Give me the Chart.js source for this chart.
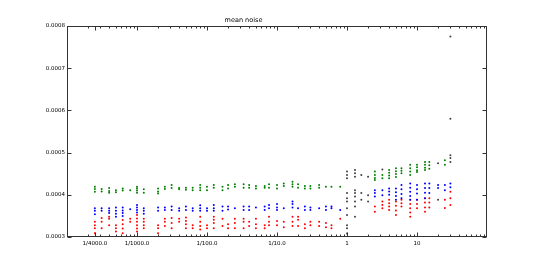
<!DOCTYPE html>
<html>
<head>
<meta charset="utf-8">
<script src="https://cdn.jsdelivr.net/npm/chart.js@4/dist/chart.umd.min.js"></script>
<style>
html,body{margin:0;padding:0;background:#fff;}
#wrap{width:540px;height:264px;}
</style>
</head>
<body>
<div id="wrap"><canvas id="c" width="540" height="264"></canvas></div>
<script>
// exposure times (s), one column of measurements each
const shutter = [1/4000, 1/3200, 1/2500, 1/2000, 1/1600, 1/1250, 1/1000, 1/800, 1/500, 1/400,
  1/320, 1/250, 1/200, 1/160, 1/125, 1/100, 1/80, 1/60, 1/50, 1/40,
  1/30, 1/25, 1/20, 1/15, 1/13, 1/10, 1/8, 1/6, 1/5, 1/4,
  0.3, 0.4, 0.5, 0.6, 0.8, 1, 1.3, 1.6, 2, 2.5,
  3.2, 4, 5, 6, 8, 10, 13, 15, 20, 25, 30];

const greenVals = [
  [4.19e-4,4.14e-4,4.07e-4],[4.14e-4,4.08e-4],[4.16e-4,4.09e-4,4.05e-4],[4.11e-4,4.06e-4],[4.15e-4,4.10e-4],
  [4.11e-4],[4.19e-4,4.15e-4,4.10e-4,4.05e-4],[4.13e-4,4.05e-4],[4.15e-4,4.08e-4,4.03e-4],[4.19e-4,4.14e-4],
  [4.23e-4,4.16e-4],[4.16e-4,4.13e-4],[4.17e-4,4.12e-4],[4.17e-4,4.11e-4],[4.23e-4,4.17e-4,4.11e-4],
  [4.19e-4,4.11e-4],[4.23e-4,4.17e-4],[4.19e-4,4.11e-4],[4.23e-4,4.15e-4],[4.25e-4,4.19e-4],
  [4.25e-4,4.17e-4],[4.23e-4,4.17e-4],[4.21e-4,4.15e-4],[4.21e-4,4.17e-4],[4.25e-4,4.17e-4],
  [4.23e-4,4.15e-4],[4.27e-4,4.21e-4],[4.31e-4,4.25e-4,4.19e-4],[4.25e-4,4.17e-4],[4.21e-4,4.15e-4],
  [4.21e-4,4.15e-4],[4.23e-4,4.17e-4],[4.19e-4],[4.19e-4],[4.19e-4],
  [],[],[],[],[4.55e-4,4.47e-4,4.40e-4,4.35e-4],
  [4.47e-4,4.39e-4],[4.59e-4,4.52e-4,4.46e-4,4.39e-4],[4.63e-4,4.56e-4,4.49e-4,4.42e-4],[4.63e-4,4.57e-4,4.51e-4],
  [4.71e-4,4.63e-4,4.55e-4,4.47e-4],[4.71e-4,4.65e-4,4.58e-4,4.54e-4],[4.78e-4,4.71e-4,4.64e-4,4.59e-4],
  [4.78e-4,4.70e-4,4.62e-4],[],[4.82e-4,4.71e-4],[]
];

const blueVals = [
  [3.68e-4,3.62e-4,3.54e-4],[3.68e-4,3.62e-4],[3.68e-4,3.62e-4,3.57e-4],[3.70e-4,3.62e-4,3.55e-4,3.48e-4],[3.70e-4,3.63e-4,3.57e-4,3.50e-4],
  [3.66e-4],[3.76e-4,3.70e-4,3.64e-4,3.58e-4],[3.68e-4,3.62e-4,3.55e-4],[3.70e-4,3.62e-4],[3.70e-4,3.64e-4],
  [3.72e-4,3.64e-4],[3.68e-4,3.62e-4],[3.72e-4,3.64e-4],[3.68e-4,3.62e-4],[3.75e-4,3.68e-4,3.62e-4],
  [3.68e-4,3.62e-4],[3.76e-4,3.68e-4,3.62e-4],[3.72e-4,3.62e-4],[3.72e-4,3.65e-4],[3.68e-4],
  [3.72e-4,3.64e-4],[3.72e-4,3.64e-4],[3.70e-4],[3.72e-4,3.64e-4],[3.76e-4,3.68e-4],
  [3.78e-4,3.70e-4,3.64e-4],[3.68e-4],[3.84e-4,3.78e-4,3.70e-4],[3.68e-4],[3.72e-4,3.64e-4],
  [3.70e-4,3.64e-4],[3.68e-4],[3.72e-4,3.64e-4],[3.72e-4,3.68e-4],[3.64e-4],
  [],[],[],[],[4.11e-4,4.04e-4,3.96e-4],
  [4.11e-4,3.99e-4],[4.15e-4,4.08e-4,4.00e-4],[4.15e-4,4.06e-4,3.97e-4,3.88e-4],[4.23e-4,4.13e-4,4.02e-4,3.92e-4],
  [4.27e-4,4.17e-4,4.07e-4,3.97e-4,3.88e-4],[4.23e-4,4.13e-4,4.03e-4,3.88e-4],[4.27e-4,4.16e-4,4.05e-4,3.92e-4],
  [4.27e-4,4.16e-4,4.04e-4],[4.23e-4,4.16e-4],[4.23e-4,4.11e-4],[4.27e-4,4.18e-4]
];

const redVals = [
  [3.36e-4,3.28e-4,3.21e-4,3.09e-4],[3.45e-4,3.36e-4,3.21e-4],[3.48e-4,3.43e-4,3.28e-4],[3.28e-4,3.21e-4,3.13e-4],[3.40e-4,3.30e-4,3.20e-4,3.09e-4],
  [3.43e-4,3.36e-4],[3.52e-4,3.44e-4,3.36e-4,3.28e-4,3.20e-4,3.13e-4],[3.43e-4,3.36e-4,3.28e-4,3.21e-4],[3.28e-4,3.21e-4,3.09e-4],[3.43e-4,3.36e-4,3.26e-4],
  [3.45e-4,3.33e-4,3.21e-4],[3.43e-4,3.36e-4],[3.46e-4,3.38e-4,3.30e-4,3.21e-4],[3.28e-4,3.21e-4],[3.48e-4,3.36e-4,3.26e-4,3.18e-4],
  [3.28e-4,3.21e-4],[3.48e-4,3.41e-4,3.33e-4,3.21e-4],[3.43e-4,3.26e-4],[3.30e-4,3.21e-4],[3.43e-4,3.33e-4,3.21e-4],
  [3.43e-4,3.36e-4,3.21e-4],[3.36e-4,3.26e-4],[3.43e-4,3.30e-4,3.21e-4],[3.28e-4,3.21e-4],[3.48e-4,3.36e-4,3.28e-4],
  [3.38e-4,3.28e-4],[3.36e-4,3.23e-4],[3.48e-4,3.36e-4,3.26e-4],[3.48e-4,3.41e-4,3.26e-4],[3.30e-4,3.21e-4],
  [3.36e-4,3.28e-4],[3.36e-4,3.26e-4],[3.33e-4,3.23e-4],[3.28e-4,3.21e-4],[3.43e-4],
  [],[],[],[],[3.72e-4,3.60e-4],
  [3.84e-4,3.76e-4,3.68e-4],[3.88e-4,3.80e-4,3.72e-4,3.64e-4],[3.84e-4,3.74e-4,3.63e-4,3.52e-4],[3.88e-4,3.80e-4,3.72e-4],
  [3.88e-4,3.78e-4,3.68e-4,3.58e-4,3.48e-4],[3.88e-4,3.78e-4,3.68e-4],[3.92e-4,3.82e-4,3.70e-4,3.60e-4],
  [3.92e-4,3.82e-4,3.70e-4],[],[3.88e-4,3.69e-4],[4.07e-4,3.92e-4,3.76e-4]
];

// dark (grey/black) dots
const darkShutter = [1, 1.3, 1.6, 2, 3.2, 20, 30];
const darkVals = [
  [4.55e-4,4.47e-4,4.39e-4,4.04e-4,3.92e-4,3.84e-4,3.68e-4,3.52e-4,3.28e-4,3.21e-4,3.08e-4],
  [4.59e-4,4.51e-4,4.43e-4,4.11e-4,4.04e-4,3.96e-4,3.84e-4,3.72e-4,3.48e-4],
  [4.47e-4,4.04e-4,3.88e-4],
  [4.43e-4,3.99e-4,3.84e-4],
  [4.60e-4],
  [4.75e-4,3.88e-4],
  [4.94e-4,4.87e-4,4.78e-4,7.75e-4,5.80e-4]
];

const xTickVals = [1/4000, 1/1000, 1/100, 1/10, 1, 10];
const xTickLabels = ['1/4000.0', '1/1000.0', '1/100.0', '1/10.0', '1', '10'];
const yTickVals = [0.0003, 0.0004, 0.0005, 0.0006, 0.0007, 0.0008];
const yTickLabels = ['0.0003', '0.0004', '0.0005', '0.0006', '0.0007', '0.0008'];
const titleText = 'mean noise';

function pts(xs, vals) {
  const out = [];
  xs.forEach((x, i) => vals[i].forEach(v => out.push({x: x, y: v})));
  return out;
}

function ds(data, color) {
  return {data: data, backgroundColor: color, borderColor: color, borderWidth: 0,
    pointRadius: 1.0, pointHoverRadius: 1.0, showLine: false};
}

const FONT = 'DejaVu Sans';

const framePlugin = {
  id: 'frame',
  afterDraw(chart) {
    const {ctx, chartArea: a, scales} = chart;
    const xs = scales.x, ys = scales.y;
    ctx.save();
    ctx.strokeStyle = '#333';
    ctx.lineWidth = 1;
    const L = Math.round(a.left) + 0.5, R = Math.round(a.right) - 0.5;
    const T = Math.round(a.top) + 0.5, B = Math.round(a.bottom) - 0.5;
    ctx.strokeRect(L, T, R - L, B - T);
    ctx.beginPath();
    for (let e = -4; e < 2; e++) {
      for (let m = 2; m <= 9; m++) {
        const px = Math.round(xs.getPixelForValue(m * Math.pow(10, e))) + 0.5;
        if (px <= L || px >= R) continue;
        ctx.moveTo(px, B); ctx.lineTo(px, B - 2);
        ctx.moveTo(px, T); ctx.lineTo(px, T + 2);
      }
    }
    xTickVals.forEach(v => {
      const px = Math.round(xs.getPixelForValue(v)) + 0.5;
      ctx.moveTo(px, B); ctx.lineTo(px, B - 4);
      ctx.moveTo(px, T); ctx.lineTo(px, T + 4);
    });
    yTickVals.forEach(v => {
      const py = Math.round(ys.getPixelForValue(v)) + 0.5;
      ctx.moveTo(L, py); ctx.lineTo(L + 4, py);
      ctx.moveTo(R, py); ctx.lineTo(R - 4, py);
    });
    ctx.stroke();
    ctx.restore();
  }
};

new Chart(document.getElementById('c'), {
  type: 'scatter',
  data: {
    datasets: [
      ds(pts(shutter, greenVals), '#008000'),
      ds(pts(shutter, blueVals), '#0000ff'),
      ds(pts(shutter, redVals), '#ff0000'),
      ds(pts(darkShutter, darkVals), '#404040')
    ]
  },
  options: {
    responsive: false,
    animation: false,
    events: [],
    layout: {padding: {left: 0, right: 53, top: 0, bottom: 0}},
    plugins: {
      legend: {display: false},
      tooltip: {enabled: false},
      title: {
        display: true, text: titleText, color: '#000',
        font: {family: FONT, size: 6.5, weight: 'normal'},
        padding: {top: 16, bottom: 2.2}
      }
    },
    scales: {
      x: {
        type: 'logarithmic', min: 1e-4, max: 100,
        grid: {display: false, drawTicks: false},
        border: {display: false},
        afterBuildTicks(s) { s.ticks = xTickVals.map(v => ({value: v})); },
        afterFit(s) { s.height = 27; },
        ticks: {
          autoSkip: false, maxRotation: 0, padding: 3, color: '#000',
          font: {family: FONT, size: 5.5},
          callback(v, i) { return xTickLabels[i]; }
        }
      },
      y: {
        type: 'linear', min: 0.0003, max: 0.0008,
        grid: {display: false, drawTicks: false},
        border: {display: false},
        afterBuildTicks(s) { s.ticks = yTickVals.map(v => ({value: v})); },
        afterFit(s) { s.width = 67; },
        ticks: {
          padding: 2, color: '#000',
          font: {family: FONT, size: 5.5},
          callback(v, i) { return yTickLabels[i]; }
        }
      }
    }
  },
  plugins: [framePlugin]
});
</script>
</body>
</html>
